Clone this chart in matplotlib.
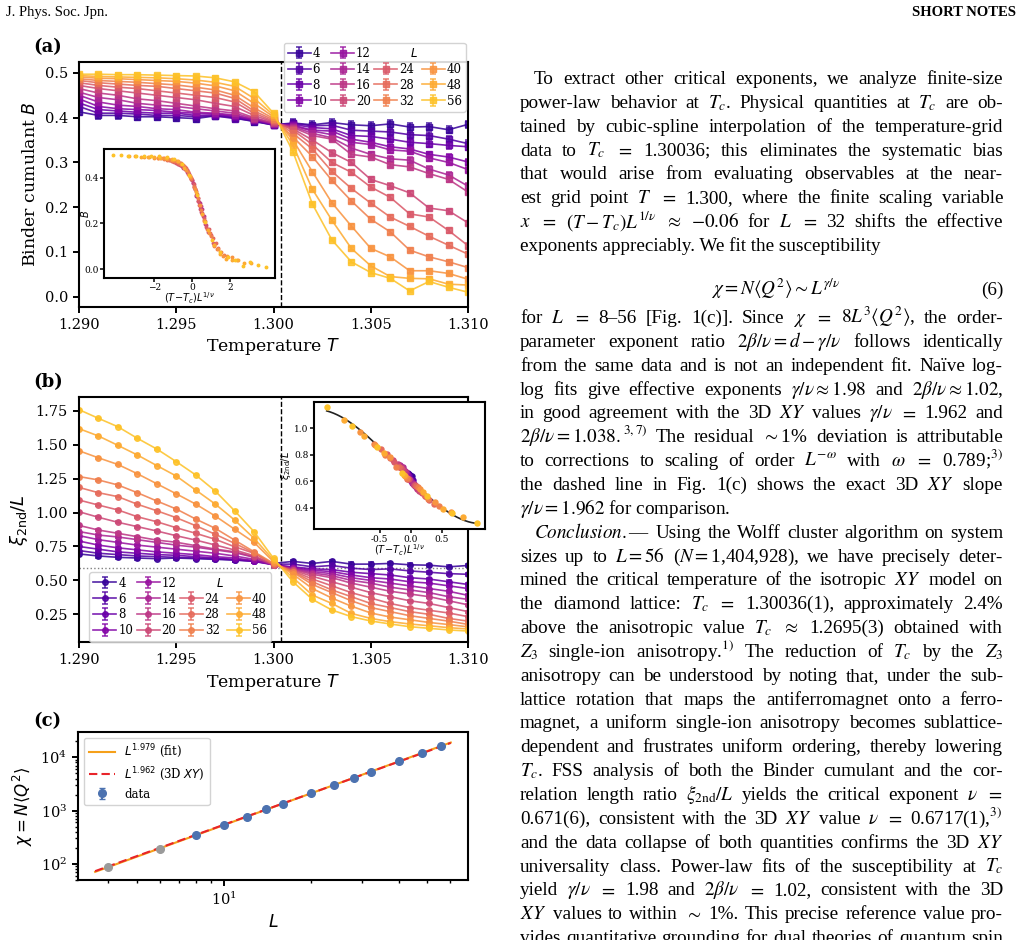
import numpy as np
import matplotlib
matplotlib.use("Agg")
import matplotlib.pyplot as plt
from matplotlib.lines import Line2D
from matplotlib.ticker import FormatStrFormatter, NullFormatter

# ---- data ----
temps = [1.290, 1.291, 1.292, 1.293, 1.294, 1.295, 1.296, 1.297, 1.298, 1.299, 1.300,
         1.301, 1.302, 1.303, 1.304, 1.305, 1.306, 1.307, 1.308, 1.309, 1.310]
sizes = [4, 6, 8, 10, 12, 14, 16, 20, 24, 28, 32, 40, 48, 56]
Tc = 1.30036
nu = 0.671
xi_star = 0.595

# Binder cumulant B(T), one row per L
binder = [
    [0.413, 0.405, 0.405, 0.402, 0.402, 0.400, 0.398, 0.404, 0.400, 0.391, 0.384, 0.388, 0.384, 0.389, 0.384, 0.382, 0.386, 0.379, 0.380, 0.373, 0.385],
    [0.425, 0.410, 0.410, 0.408, 0.405, 0.405, 0.402, 0.404, 0.398, 0.393, 0.383, 0.387, 0.382, 0.383, 0.372, 0.370, 0.368, 0.362, 0.360, 0.352, 0.342],
    [0.433, 0.418, 0.415, 0.412, 0.410, 0.410, 0.405, 0.406, 0.402, 0.394, 0.384, 0.385, 0.378, 0.375, 0.360, 0.358, 0.352, 0.345, 0.342, 0.338, 0.335],
    [0.442, 0.425, 0.420, 0.418, 0.416, 0.412, 0.410, 0.408, 0.404, 0.395, 0.385, 0.383, 0.372, 0.370, 0.352, 0.345, 0.335, 0.330, 0.318, 0.312, 0.301],
    [0.450, 0.435, 0.428, 0.425, 0.420, 0.418, 0.412, 0.410, 0.406, 0.396, 0.386, 0.382, 0.370, 0.362, 0.345, 0.340, 0.328, 0.325, 0.310, 0.300, 0.284],
    [0.457, 0.445, 0.440, 0.432, 0.428, 0.425, 0.420, 0.415, 0.410, 0.398, 0.387, 0.380, 0.365, 0.355, 0.332, 0.318, 0.308, 0.305, 0.285, 0.272, 0.247],
    [0.465, 0.455, 0.450, 0.442, 0.438, 0.432, 0.426, 0.420, 0.415, 0.400, 0.388, 0.378, 0.360, 0.352, 0.318, 0.312, 0.295, 0.290, 0.275, 0.262, 0.234],
    [0.472, 0.465, 0.460, 0.455, 0.450, 0.445, 0.440, 0.432, 0.425, 0.405, 0.390, 0.375, 0.350, 0.322, 0.300, 0.262, 0.248, 0.232, 0.198, 0.192, 0.165],
    [0.478, 0.472, 0.468, 0.465, 0.460, 0.455, 0.450, 0.445, 0.435, 0.410, 0.392, 0.372, 0.340, 0.300, 0.278, 0.245, 0.222, 0.185, 0.178, 0.148, 0.114],
    [0.483, 0.478, 0.475, 0.472, 0.470, 0.465, 0.460, 0.455, 0.443, 0.415, 0.395, 0.365, 0.330, 0.280, 0.242, 0.209, 0.178, 0.157, 0.135, 0.115, 0.095],
    [0.487, 0.483, 0.481, 0.479, 0.476, 0.473, 0.468, 0.462, 0.450, 0.422, 0.398, 0.357, 0.313, 0.260, 0.214, 0.173, 0.145, 0.104, 0.089, 0.078, 0.065],
    [0.491, 0.488, 0.487, 0.485, 0.483, 0.481, 0.477, 0.471, 0.460, 0.432, 0.402, 0.350, 0.279, 0.210, 0.158, 0.108, 0.089, 0.058, 0.058, 0.052, 0.039],
    [0.494, 0.492, 0.491, 0.490, 0.489, 0.487, 0.484, 0.479, 0.470, 0.443, 0.406, 0.339, 0.240, 0.171, 0.108, 0.069, 0.045, 0.041, 0.040, 0.028, 0.026],
    [0.497, 0.497, 0.496, 0.496, 0.495, 0.494, 0.493, 0.489, 0.480, 0.458, 0.410, 0.324, 0.207, 0.127, 0.078, 0.054, 0.041, 0.013, 0.034, 0.021, 0.010],
]
binder_err = [0.008, 0.007, 0.007, 0.006, 0.006, 0.006, 0.005, 0.005, 0.005, 0.004, 0.004, 0.004, 0.003, 0.003]

# second-moment correlation length ratio xi_2nd/L
xi_ratio = [
    [0.695, 0.680, 0.670, 0.665, 0.660, 0.665, 0.660, 0.655, 0.650, 0.645, 0.625, 0.640, 0.625, 0.640, 0.620, 0.620, 0.625, 0.615, 0.612, 0.600, 0.610],
    [0.720, 0.700, 0.690, 0.680, 0.675, 0.670, 0.665, 0.660, 0.650, 0.640, 0.620, 0.620, 0.600, 0.610, 0.590, 0.580, 0.585, 0.570, 0.560, 0.550, 0.545],
    [0.750, 0.730, 0.710, 0.700, 0.690, 0.685, 0.675, 0.665, 0.655, 0.640, 0.615, 0.600, 0.585, 0.580, 0.560, 0.550, 0.540, 0.520, 0.510, 0.490, 0.470],
    [0.790, 0.760, 0.740, 0.725, 0.710, 0.700, 0.690, 0.675, 0.665, 0.645, 0.615, 0.595, 0.575, 0.565, 0.540, 0.520, 0.510, 0.490, 0.480, 0.460, 0.440],
    [0.830, 0.800, 0.780, 0.760, 0.745, 0.730, 0.715, 0.700, 0.680, 0.655, 0.612, 0.590, 0.565, 0.550, 0.520, 0.500, 0.480, 0.460, 0.440, 0.420, 0.390],
    [0.860, 0.834, 0.820, 0.800, 0.780, 0.760, 0.745, 0.725, 0.705, 0.670, 0.612, 0.585, 0.555, 0.535, 0.500, 0.480, 0.450, 0.430, 0.410, 0.380, 0.360],
    [0.905, 0.871, 0.847, 0.822, 0.797, 0.781, 0.756, 0.731, 0.711, 0.674, 0.615, 0.580, 0.545, 0.520, 0.480, 0.450, 0.420, 0.400, 0.380, 0.350, 0.320],
    [1.006, 0.965, 0.928, 0.896, 0.864, 0.829, 0.797, 0.761, 0.724, 0.682, 0.615, 0.575, 0.530, 0.490, 0.450, 0.410, 0.380, 0.350, 0.330, 0.300, 0.270],
    [1.092, 1.055, 1.019, 0.969, 0.932, 0.888, 0.847, 0.803, 0.748, 0.700, 0.617, 0.570, 0.510, 0.460, 0.410, 0.370, 0.330, 0.300, 0.280, 0.260, 0.233],
    [1.185, 1.146, 1.117, 1.061, 1.013, 0.962, 0.903, 0.840, 0.773, 0.704, 0.620, 0.565, 0.490, 0.430, 0.380, 0.330, 0.300, 0.270, 0.250, 0.220, 0.200],
    [1.265, 1.240, 1.203, 1.146, 1.085, 1.026, 0.952, 0.884, 0.797, 0.711, 0.626, 0.560, 0.470, 0.410, 0.350, 0.300, 0.270, 0.240, 0.220, 0.200, 0.176],
    [1.455, 1.403, 1.354, 1.286, 1.212, 1.138, 1.062, 0.975, 0.877, 0.780, 0.638, 0.545, 0.440, 0.370, 0.310, 0.260, 0.230, 0.210, 0.190, 0.175, 0.158],
    [1.618, 1.564, 1.495, 1.424, 1.346, 1.269, 1.166, 1.063, 0.945, 0.810, 0.650, 0.520, 0.392, 0.330, 0.257, 0.220, 0.196, 0.179, 0.166, 0.152, 0.142],
    [1.758, 1.694, 1.632, 1.547, 1.468, 1.375, 1.277, 1.159, 1.013, 0.859, 0.663, 0.490, 0.360, 0.282, 0.233, 0.201, 0.179, 0.159, 0.147, 0.135, 0.127],
]
xi_err = [0.012, 0.012, 0.011, 0.010, 0.010, 0.009, 0.008, 0.007, 0.006, 0.006, 0.005, 0.005, 0.004, 0.004]

# susceptibility at Tc
chi = [86.7, 191, 350, 540, 752, 1070, 1330, 2110, 3020, 4040, 5230, 8510, 12200, 16500]
chi_err = [1, 2, 3, 5, 7, 10, 13, 20, 30, 40, 50, 80, 120, 160]
n_excluded = 2          # L = 4, 6 left out of the fit
slope_fit = 1.979
slope_xy = 1.962

# ---- style ----
plt.rcParams.update({
    "font.family": "DejaVu Serif",
    "axes.linewidth": 1.5,
    "xtick.major.width": 1.4, "ytick.major.width": 1.4,
    "xtick.major.size": 4.5, "ytick.major.size": 4.5,
    "xtick.minor.width": 1.0, "ytick.minor.width": 1.0,
    "xtick.minor.size": 2.5, "ytick.minor.size": 2.5,
    "xtick.labelsize": 10.5, "ytick.labelsize": 10.5,
    "axes.labelsize": 12.5,
})

W, H = 1021, 940
fig = plt.figure(figsize=(W / 100, H / 100), dpi=100)


def box(left, top, right, bottom):
    # pixel box -> figure fraction rect
    return [left / W, 1 - bottom / H, (right - left) / W, (bottom - top) / H]


def pos(x, y):
    return x / W, 1 - y / H


T = np.array(temps)
colors = plt.cm.plasma(np.linspace(0.08, 0.87, len(sizes)))

legend_kw = dict(fontsize=8.5, ncol=4, handlelength=1.95, handletextpad=0.15,
                 columnspacing=0.3, labelspacing=0.25, borderpad=0.35,
                 borderaxespad=0, frameon=True, fancybox=True,
                 edgecolor="#cccccc", framealpha=0.85)


def size_legend(ax, handles, **kw):
    blank = Line2D([], [], linestyle="none", marker="none")
    order = handles[:8] + [blank] + handles[8:11] + [blank] + handles[11:]
    labels = [str(L) for L in sizes[:8]] + ["   $L$"] + [str(L) for L in sizes[8:11]] + [" "] + [str(L) for L in sizes[11:]]
    leg = ax.legend(order, labels, **legend_kw, **kw)
    leg.set_zorder(10)


# ---- (a) Binder cumulant ----
axA = fig.add_axes(box(79, 61.7, 468, 307))
hA = []
for i, L in enumerate(sizes):
    h = axA.errorbar(T, binder[i], yerr=binder_err[i], color=colors[i], marker="s", ms=4,
                     lw=1.2, capsize=2.2, capthick=1.1, elinewidth=1.1, alpha=0.87)
    hA.append(h)
axA.axvline(Tc, color="black", ls="--", lw=1.0)
axA.set_xlim(1.290, 1.310)
axA.set_ylim(-0.023, 0.525)
axA.set_xticks([1.290, 1.295, 1.300, 1.305, 1.310])
axA.xaxis.set_major_formatter(FormatStrFormatter("%.3f"))
axA.set_yticks([0.0, 0.1, 0.2, 0.3, 0.4, 0.5])
axA.yaxis.set_major_formatter(FormatStrFormatter("%.1f"))
axA.set_xlabel("Temperature $T$", labelpad=3)
axA.set_ylabel("Binder cumulant $B$", labelpad=4)
size_legend(axA, hA, loc="upper right", bbox_to_anchor=(0.994, 1.078))

# inset: data collapse of B
inA = fig.add_axes(box(104, 149.3, 275, 277.7))
for i, L in enumerate(sizes):
    if L < 16:
        continue
    inA.plot((T - Tc) * L ** (1 / nu), binder[i], "o", ms=1.8, color=colors[i], ls="none")
inA.set_xlim(-4.66, 4.38)
inA.set_ylim(-0.036, 0.523)
inA.set_xticks([-2, 0, 2])
inA.set_yticks([0.0, 0.2, 0.4])
inA.yaxis.set_major_formatter(FormatStrFormatter("%.1f"))
inA.tick_params(labelsize=6.5, length=3, width=1.1, pad=1)
inA.set_xlabel("$(T\\!-\\!T_c)L^{1/\\nu}$", fontsize=7, labelpad=-1)
inA.set_ylabel("$B$", fontsize=7, labelpad=-5)

# ---- (b) correlation length ratio ----
axB = fig.add_axes(box(79, 397.3, 468, 642.3))
hB = []
for i, L in enumerate(sizes):
    h = axB.errorbar(T, xi_ratio[i], yerr=xi_err[i], color=colors[i], marker="o", ms=4,
                     lw=1.2, capsize=2.2, capthick=1.1, elinewidth=1.1, alpha=0.87)
    hB.append(h)
axB.axvline(Tc, color="black", ls="--", lw=1.0)
axB.axhline(xi_star, color="gray", ls=":", lw=1.0)
axB.set_xlim(1.290, 1.310)
axB.set_ylim(0.044, 1.849)
axB.set_xticks([1.290, 1.295, 1.300, 1.305, 1.310])
axB.xaxis.set_major_formatter(FormatStrFormatter("%.3f"))
axB.set_yticks([0.25, 0.50, 0.75, 1.00, 1.25, 1.50, 1.75])
axB.yaxis.set_major_formatter(FormatStrFormatter("%.2f"))
axB.set_xlabel("Temperature $T$", labelpad=3)
axB.set_ylabel("$\\xi_{\\mathrm{2nd}}/L$", fontsize=13, labelpad=4)
size_legend(axB, hB, loc="lower left", bbox_to_anchor=(0.0265, 0.003))

# inset: data collapse of xi/L near Tc
inB = fig.add_axes(box(314, 401.7, 485, 529))
xs, ys = [], []
for i, L in enumerate(sizes):
    sel = np.abs(T - Tc) < 0.0035
    x = (T[sel] - Tc) * L ** (1 / nu)
    y = np.array(xi_ratio[i])[sel]
    xs.extend(x)
    ys.extend(y)
    inB.plot(x, y, "o", ms=3.6, color=colors[i], ls="none", zorder=3)
coef = np.polyfit(xs, ys, 3)
xx = np.linspace(min(xs), max(xs), 200)
inB.plot(xx, np.polyval(coef, xx), color="#222222", lw=1.2, zorder=2)
inB.set_xlim(-1.56, 1.2)
inB.set_ylim(0.24, 1.2)
inB.set_xticks([-0.5, 0.0, 0.5])
inB.set_yticks([0.4, 0.6, 0.8, 1.0])
inB.xaxis.set_major_formatter(FormatStrFormatter("%.1f"))
inB.yaxis.set_major_formatter(FormatStrFormatter("%.1f"))
inB.tick_params(labelsize=6.5, length=3, width=1.1, pad=1)
inB.set_xlabel("$(T\\!-\\!T_c)L^{1/\\nu}$", fontsize=7, labelpad=-1)
inB.set_ylabel("$\\xi_{\\mathrm{2nd}}/L$", fontsize=7, labelpad=1)

# ---- (c) susceptibility scaling ----
axC = fig.add_axes(box(78.3, 732.3, 468.3, 880))
Ls = np.array(sizes, dtype=float)
chis = np.array(chi)
logL, logchi = np.log(Ls[n_excluded:]), np.log(chis[n_excluded:])
amp_fit = np.exp(np.mean(logchi - slope_fit * logL))
amp_xy = np.exp(np.mean(logchi - slope_xy * logL))
Lline = np.linspace(Ls.min() * 0.9, Ls.max() * 1.08, 200)
axC.plot(Lline, amp_fit * Lline ** slope_fit, color="#f5a01a", lw=1.5,
         label="$L^{1.979}$ (fit)")
axC.plot(Lline, amp_xy * Lline ** slope_xy, color="#e8242a", lw=1.5, ls=(0, (4, 2)),
         label="$L^{1.962}$ (3D $XY$)")
axC.errorbar(Ls[n_excluded:], chis[n_excluded:], yerr=chi_err[n_excluded:], fmt="o",
             color="#4c72b0", ms=5.5, capsize=2, label="data", zorder=3)
axC.errorbar(Ls[:n_excluded], chis[:n_excluded], yerr=chi_err[:n_excluded], fmt="o",
             color="#9a9a9a", ms=5.5, capsize=2, zorder=3)
axC.set_xscale("log")
axC.set_yscale("log")
axC.set_xlim(3.15, 69.5)
axC.set_ylim(50, 29400)
axC.xaxis.set_minor_formatter(NullFormatter())
axC.set_xlabel("$L$", labelpad=4)
axC.set_ylabel("$\\chi = N\\langle Q^2\\rangle$", fontsize=12, labelpad=4)
axC.legend(loc="upper left", bbox_to_anchor=(0.0146, 0.961), borderaxespad=0,
           fontsize=8.5, handlelength=2.2, labelspacing=0.4, borderpad=0.4,
           edgecolor="#cccccc", framealpha=0.85)

# panel tags
for tag, y in [("(a)", 47), ("(b)", 382), ("(c)", 721)]:
    fig.text(*pos(33, y), tag, fontsize=13, fontweight="bold", va="center", ha="left")

# ---- page text ----
fig.text(*pos(6, 16), "J. Phys. Soc. Jpn.", fontfamily="Liberation Serif", fontsize=10.5, va="baseline")
fig.text(*pos(1016, 16), "SHORT NOTES", fontfamily="Liberation Serif", fontsize=10.5,
         fontweight="bold", va="baseline", ha="right")

para1 = [
    "To extract other critical exponents, we analyze finite-size",
    "power-law behavior at $T_c$. Physical quantities at $T_c$ are ob-",
    "tained by cubic-spline interpolation of the temperature-grid",
    "data to $T_c$ $=$ 1.30036; this eliminates the systematic bias",
    "that would arise from evaluating observables at the near-",
    "est grid point $T$ $=$ 1.300, where the finite scaling variable",
    "$x$ $=$ $(T-T_c)L^{1/\\nu}$ $\\approx$ $-0.06$ for $L$ $=$ 32 shifts the effective",
    "exponents appreciably. We fit the susceptibility",
]
para2 = [
    "for $L$ $=$ 8–56 [Fig. 1(c)]. Since $\\chi$ $=$ $8L^3\\langle Q^2\\rangle$, the order-",
    "parameter exponent ratio $2\\beta/\\nu = d - \\gamma/\\nu$ follows identically",
    "from the same data and is not an independent fit. Naïve log-",
    "log fits give effective exponents $\\gamma/\\nu \\approx 1.98$ and $2\\beta/\\nu \\approx 1.02$,",
    "in good agreement with the 3D $XY$ values $\\gamma/\\nu$ $=$ 1.962 and",
    "$2\\beta/\\nu = 1.038.^{3,7)}$ The residual $\\sim$1% deviation is attributable",
    "to corrections to scaling of order $L^{-\\omega}$ with $\\omega$ $=$ 0.789;$^{3)}$",
    "the dashed line in Fig. 1(c) shows the exact 3D $XY$ slope",
    "$\\gamma/\\nu = 1.962$ for comparison.",
]
para3 = [
    "$\\mathit{Conclusion.}$— Using the Wolff cluster algorithm on system",
    "sizes up to $L = 56$ ($N = $1,404,928), we have precisely deter-",
    "mined the critical temperature of the isotropic $XY$ model on",
    "the diamond lattice: $T_c$ $=$ 1.30036(1), approximately 2.4%",
    "above the anisotropic value $T_c$ $\\approx$ 1.2695(3) obtained with",
    "$Z_3$ single-ion anisotropy.$^{1)}$ The reduction of $T_c$ by the $Z_3$",
    "anisotropy can be understood by noting that, under the sub-",
    "lattice rotation that maps the antiferromagnet onto a ferro-",
    "magnet, a uniform single-ion anisotropy becomes sublattice-",
    "dependent and frustrates uniform ordering, thereby lowering",
    "$T_c$. FSS analysis of both the Binder cumulant and the cor-",
    "relation length ratio $\\xi_{\\mathrm{2nd}}/L$ yields the critical exponent $\\nu$ $=$",
    "0.671(6), consistent with the 3D $XY$ value $\\nu$ $=$ 0.6717(1),$^{3)}$",
    "and the data collapse of both quantities confirms the 3D $XY$",
    "universality class. Power-law fits of the susceptibility at $T_c$",
    "yield $\\gamma/\\nu$ $=$ 1.98 and $2\\beta/\\nu$ $=$ 1.02, consistent with the 3D",
    "$XY$ values to within $\\sim$ 1%. This precise reference value pro-",
    "vides quantitative grounding for dual theories of quantum spin",
]

body_size = 13.8
body_kw = dict(fontfamily="Liberation Serif", math_fontfamily="stix", va="baseline")
renderer = fig.canvas.get_renderer()
col_left, col_right, indent, lead = 520, 1003, 14, 23.85
min_gap = 3.0


def tokens_of(line):
    out, cur, in_math = [], "", False
    for ch in line:
        if ch == "$":
            in_math = not in_math
        if ch == " " and not in_math:
            if cur:
                out.append(cur)
            cur = ""
        else:
            cur += ch
    if cur:
        out.append(cur)
    return out


def body_line(line, x0, y, justify=True):
    if not justify:
        fig.text(*pos(x0, y), line, fontsize=body_size, **body_kw)
        return
    toks = tokens_of(line)
    texts = [fig.text(*pos(x0, y), t, fontsize=body_size, **body_kw) for t in toks]
    widths = [t.get_window_extent(renderer).width for t in texts]
    n_gap = max(len(toks) - 1, 1)
    room = col_right - x0 - n_gap * min_gap
    if sum(widths) > room:
        # squeeze an over-long line a little
        scale = room / sum(widths)
        for t in texts:
            t.set_fontsize(body_size * scale)
        widths = [t.get_window_extent(renderer).width for t in texts]
    gap = (col_right - x0 - sum(widths)) / n_gap
    x = x0
    for t, w in zip(texts, widths):
        t.set_position(pos(x, y))
        x += w + gap


def paragraph(lines, y0, first_indent, last_ragged=True):
    for k, line in enumerate(lines):
        x0 = col_left + (indent if (k == 0 and first_indent) else 0)
        ragged = last_ragged and k == len(lines) - 1
        body_line(line, x0, y0 + k * lead, justify=not ragged)
    return y0 + len(lines) * lead


paragraph(para1, 84, True)
fig.text(*pos(776, 295), "$\\chi = N\\langle Q^2\\rangle \\sim L^{\\gamma/\\nu}$",
         ha="center", fontsize=body_size, **body_kw)
fig.text(*pos(col_right, 295), "(6)", ha="right", fontsize=body_size, **body_kw)
y_next = paragraph(para2, 323, False)
paragraph(para3, y_next, True, last_ragged=False)

fig.savefig("out.png", dpi=100)
